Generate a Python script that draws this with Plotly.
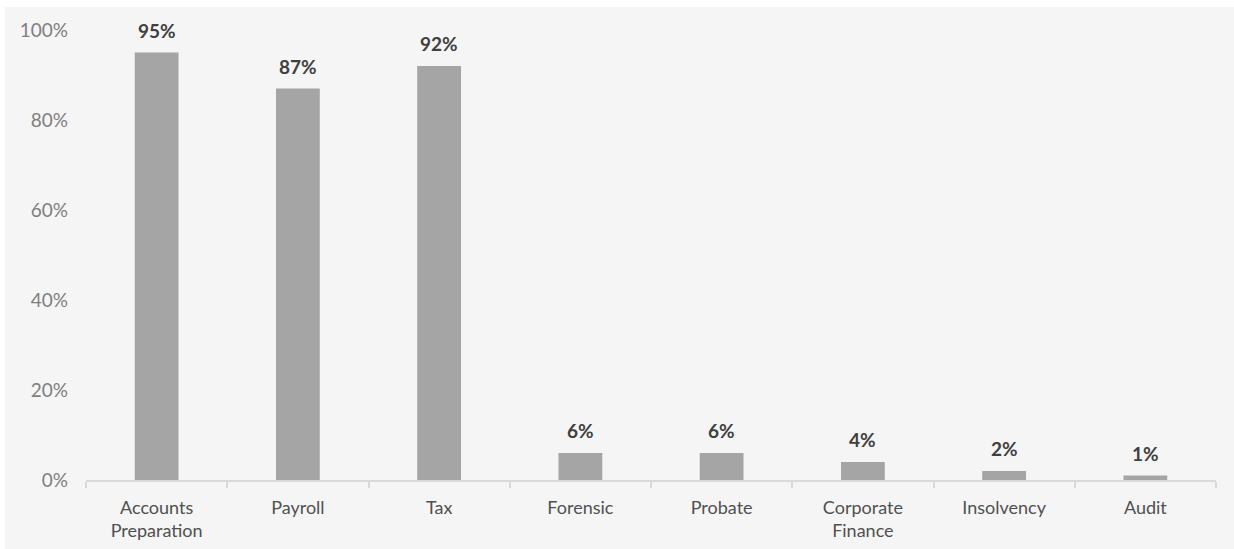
import plotly.graph_objects as go

categories = ["Accounts<br>Preparation", "Payroll", "Tax", "Forensic", "Probate",
              "Corporate<br>Finance", "Insolvency", "Audit"]
values = [0.95, 0.87, 0.92, 0.06, 0.06, 0.04, 0.02, 0.01]
y_ticks = [0, 0.2, 0.4, 0.6, 0.8, 1.0]

W, H = 1234, 549
ML, MR, MT, MB = 86, 18, 30, 69
pw, ph = W - ML - MR, H - MT - MB
base = H - MB  # pixel row of the x axis


def px_x(p):
    return (p - ML) / pw


def px_y(p):
    return (base - p) / ph


fig = go.Figure()
fig.add_trace(go.Bar(
    x=categories, y=values,
    marker=dict(color="#a5a5a5", line=dict(width=0)),
    hoverinfo="skip",
))

for c, v in zip(categories, values):
    fig.add_annotation(
        x=c, y=v, text=f"<b>{round(v*100)}%</b>", showarrow=False,
        yanchor="bottom", yshift=9,
        font=dict(family="Lato", size=19, color="#404040"),
    )

# light grey panel behind the chart (white margin at top/left)
fig.add_shape(
    type="rect", xref="paper", yref="paper", layer="below",
    x0=px_x(5), x1=px_x(W + 5),
    y0=px_y(H + 5), y1=px_y(7),
    fillcolor="#f5f5f5", line=dict(width=0),
)

fig.update_layout(
    width=W, height=H,
    margin=dict(l=ML, r=MR, t=MT, b=MB, autoexpand=False),
    paper_bgcolor="white",
    plot_bgcolor="rgba(0,0,0,0)",
    bargap=0.69,
    showlegend=False,
    font=dict(family="Lato"),
)
fig.update_xaxes(
    showline=True, linecolor="#d9d9d9", linewidth=2,
    ticks="outside", tickson="boundaries", ticklen=6, tickcolor="#d9d9d9", tickwidth=2,
    tickfont=dict(family="Lato", size=18, color="#505050"),
    ticklabelstandoff=10, automargin=False,
    showgrid=False, zeroline=False,
)
fig.update_yaxes(
    range=[0, 1], tickvals=y_ticks, tickformat=".0%",
    showgrid=False, zeroline=False, showline=False, ticks="",
    tickfont=dict(family="Lato", size=19, color="#7f7f7f"),
    ticklabelstandoff=17, automargin=False,
)

fig.write_html("out.html")
